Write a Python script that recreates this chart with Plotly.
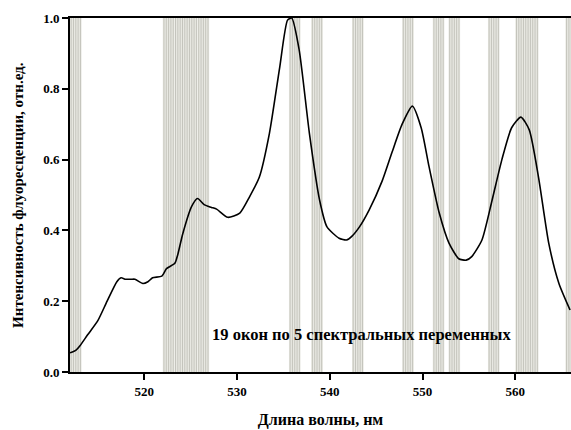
import plotly.graph_objects as go

# spectrum (wavelength nm, relative intensity)
wavelength = [512.0, 512.65, 513.1, 513.9, 515.0, 516.0, 517.05, 517.5, 518.0, 518.6,
              519.0, 519.85, 520.4, 520.9, 521.9, 522.4, 523.3, 523.6, 524.15, 525.1,
              525.75, 526.5, 527.25, 527.8, 529.0, 530.3, 531.35, 532.4, 533.5, 534.6,
              535.45, 535.9, 536.7, 537.8, 538.9, 539.7, 541.0, 541.8, 542.4, 543.2,
              544.25, 545.65, 546.7, 547.8, 548.9, 549.85, 550.7, 551.8, 552.85, 553.9,
              554.7, 555.3, 556.4, 557.5, 558.55, 559.6, 560.6, 561.5, 562.5, 563.6,
              564.7, 565.9]
intensity = [0.054, 0.062, 0.075, 0.105, 0.145, 0.20, 0.255, 0.266, 0.262, 0.262,
             0.262, 0.25, 0.255, 0.266, 0.271, 0.292, 0.307, 0.33, 0.39, 0.467,
             0.49, 0.472, 0.465, 0.46, 0.437, 0.449, 0.495, 0.55, 0.675, 0.86,
             0.994, 1.0, 0.91, 0.675, 0.486, 0.41, 0.378, 0.373, 0.384, 0.41,
             0.458, 0.54, 0.62, 0.70, 0.751, 0.69, 0.58, 0.449, 0.364, 0.32,
             0.316, 0.326, 0.373, 0.486, 0.6, 0.69, 0.72, 0.684, 0.55, 0.364,
             0.25, 0.175]

# selected windows (start wavelength, nm), 5 variables each
window_starts = [512.0, 522.0, 523.25, 524.5, 525.75, 535.6, 538.0, 542.4, 547.8,
                 551.1, 552.8, 557.05, 560.0, 561.25, 565.4]
n_vars = 5
var_step = 0.25

x_ticks = [520, 530, 540, 550, 560]
y_ticks = [0.0, 0.2, 0.4, 0.6, 0.8, 1.0]

fig = go.Figure()

shapes = []
for s in window_starts:
    shapes.append(dict(type="rect", xref="x", yref="y", x0=s, x1=s + n_vars * var_step,
                       y0=0, y1=1, fillcolor="#e8e8e2", line=dict(width=0), layer="below"))
    for i in range(n_vars):
        xv = s + var_step * (i + 0.5)
        shapes.append(dict(type="line", xref="x", yref="y", x0=xv, x1=xv, y0=0, y1=1,
                           line=dict(color="#c4c4bc", width=1), layer="below"))

fig.add_trace(go.Scatter(x=wavelength, y=intensity, mode="lines",
                         line=dict(color="black", width=1.6, shape="spline", smoothing=0.6),
                         showlegend=False, hoverinfo="skip"))

serif = "Liberation Serif, Times New Roman, serif"

fig.update_layout(
    width=571, height=430,
    margin=dict(l=70, r=0, t=18, b=58),
    paper_bgcolor="white", plot_bgcolor="white",
    shapes=shapes,
    font=dict(family=serif, color="black"),
    annotations=[
        dict(x=543.4, y=0.105, xref="x", yref="y",
             text="<b>19 окон по 5 спектральных переменных</b>",
             showarrow=False, font=dict(family=serif, size=16.5, color="black")),
        dict(x=-0.104, y=0.5, xref="paper", yref="paper", textangle=-90,
             xanchor="center", yanchor="middle",
             text="<b>Интенсивность флуоресценции, отн.ед.</b>",
             showarrow=False, font=dict(family=serif, size=15, color="black")),
    ],
    xaxis=dict(range=[512, 566], tickvals=x_ticks, ticktext=[f"<b>{v}</b>" for v in x_ticks],
               ticks="outside", ticklen=6, tickwidth=1.5, tickcolor="black",
               showline=True, linecolor="black", linewidth=2, mirror=True,
               showgrid=False, zeroline=False, tickfont=dict(size=13, family=serif),
               automargin=False,
               title=dict(text="<b>Длина волны, нм</b>", font=dict(size=16, family=serif),
                          standoff=16)),
    yaxis=dict(range=[0, 1], tickvals=y_ticks, ticktext=[f"<b>{v:.1f}</b>" for v in y_ticks],
               ticks="outside", ticklen=6, tickwidth=1.5, tickcolor="black",
               showline=True, linecolor="black", linewidth=2,
               showgrid=False, zeroline=False, tickfont=dict(size=13, family=serif),
               automargin=False),
)

fig.write_html("out.html", config={"displayModeBar": False},
               post_script="document.body.style.margin='0';")
